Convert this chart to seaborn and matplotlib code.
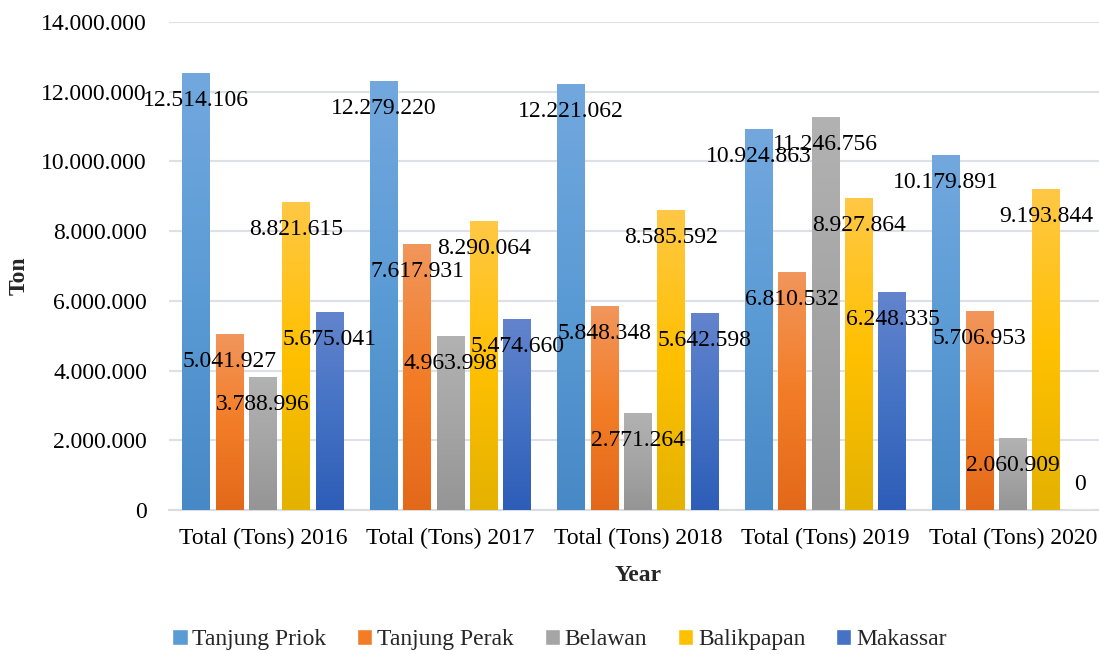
import numpy as np
import pandas as pd
import matplotlib.pyplot as plt
import seaborn as sns
from matplotlib.colors import LinearSegmentedColormap
from matplotlib.ticker import FuncFormatter
from matplotlib.patches import Patch

years = ["Total (Tons) 2016", "Total (Tons) 2017", "Total (Tons) 2018",
         "Total (Tons) 2019", "Total (Tons) 2020"]
ports = ["Tanjung Priok", "Tanjung Perak", "Belawan", "Balikpapan", "Makassar"]

tanjung_priok = [12514106, 12279220, 12221062, 10924863, 10179891]
tanjung_perak = [5041927, 7617931, 5848348, 6810532, 5706953]
belawan = [3788996, 4963998, 2771264, 11246756, 2060909]
balikpapan = [8821615, 8290064, 8585592, 8927864, 9193844]
makassar = [5675041, 5474660, 5642598, 6248335, 0]

# excel style gradient: top, middle, bottom
grad = {
    "Tanjung Priok": ["#72A8DE", "#5B9BD5", "#4789C6"],
    "Tanjung Perak": ["#F1965C", "#F37D27", "#E3691A"],
    "Belawan": ["#B2B2B2", "#A5A5A5", "#959595"],
    "Balikpapan": ["#FFC845", "#FFC000", "#E4B200"],
    "Makassar": ["#6384CD", "#4472C4", "#2E5DB8"],
}

df = pd.DataFrame({
    "year": years * 5,
    "port": sum([[p] * 5 for p in ports], []),
    "value": tanjung_priok + tanjung_perak + belawan + balikpapan + makassar,
})

sns.set_style("white")
plt.rcParams['font.family'] = ['Liberation Serif', 'DejaVu Serif']

fig = plt.figure(figsize=(10.99, 6.54), dpi=100)
ax = fig.add_axes([169.25 / 1099, 144 / 654, 937.5 / 1099, 488 / 654])

sns.barplot(data=df, x="year", y="value", hue="port", hue_order=ports,
            palette=[grad[p][1] for p in ports], width=0.893, gap=0.164,
            legend=False, ax=ax, zorder=3)

ax.set_ylim(0, 14000000)
xl = ax.get_xlim()
ylim = ax.get_ylim()

fmt = lambda v: f"{int(v):,}".replace(",", ".")
grad_arr = np.linspace(0, 1, 256).reshape(-1, 1)

for i, cont in enumerate(ax.containers):
    p = ports[i]
    cmap = LinearSegmentedColormap.from_list(p, [grad[p][2], grad[p][1], grad[p][0]])
    for bar in cont:
        x0, w, h = bar.get_x(), bar.get_width(), bar.get_height()
        xc = x0 + w / 2
        if h > 0:
            bar.set_alpha(0)
            ax.imshow(grad_arr, extent=[x0, x0 + w, 0, h], origin="lower",
                      cmap=cmap, aspect="auto", zorder=3)
            ax.annotate(fmt(h), (xc, h), xytext=(0, -27), textcoords="offset pixels",
                        ha="center", va="center", fontsize=17, color="black", zorder=5)
        else:
            ax.annotate(fmt(h), (xc, h), xytext=(0, 25), textcoords="offset pixels",
                        ha="center", va="center", fontsize=17, color="black", zorder=5)

ax.set_xlim(xl)
ax.set_ylim(ylim)
ax.set_yticks(np.arange(0, 14000001, 2000000))
ax.yaxis.set_major_formatter(FuncFormatter(lambda v, pos: fmt(v)))
ax.grid(axis="y", color="#DDE1E6", linewidth=1.5, zorder=0)
ax.grid(axis="x", visible=False)
for s in ["top", "right", "left"]:
    ax.spines[s].set_visible(False)
ax.spines["bottom"].set_color("#D9DDE2")
ax.spines["bottom"].set_linewidth(1.5)
ax.tick_params(axis="y", length=0, pad=16, labelsize=17, labelcolor="black")
ax.tick_params(axis="x", length=0, pad=13, labelsize=17, labelcolor="black")

ax.set_xlabel("Year", fontsize=17, fontweight="bold")
ax.set_ylabel("Ton", fontsize=17, fontweight="bold")
ax.xaxis.set_label_coords(0.5, -0.112)
ax.yaxis.set_label_coords(-0.149, 0.48)

handles = [Patch(facecolor=grad[p][1], label=p) for p in ports]
fig.legend(handles=handles, loc="center", bbox_to_anchor=(0.509, 0.022), ncol=5,
           frameon=False, fontsize=17, handlelength=0.65, handleheight=0.65,
           handletextpad=0.2, columnspacing=1.3)

fig.savefig("out.png", dpi=100)
